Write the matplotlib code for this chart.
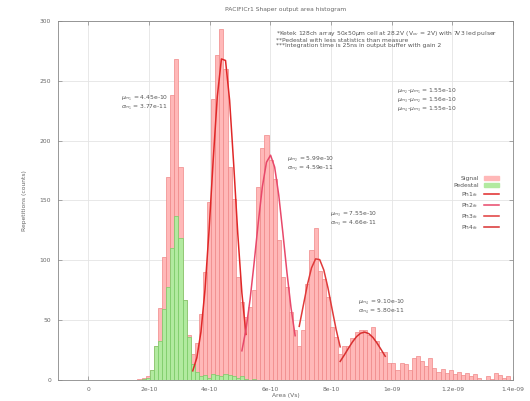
import numpy as np
import matplotlib
matplotlib.use('Agg')
import matplotlib.pyplot as plt
from matplotlib.patches import Patch
from matplotlib.lines import Line2D

# histogram, bin width 1.35e-11 starting at 1.62e-10
x0 = 1.62e-10
bw = 1.35e-11
signal = [1, 2, 3, 8, 28, 60, 103, 170, 238, 268,
          178, 67, 38, 22, 31, 55, 90, 149, 235, 272,
          293, 260, 178, 151, 86, 65, 53, 61, 75, 161,
          194, 205, 184, 168, 117, 86, 78, 57, 42, 28,
          42, 80, 109, 127, 91, 84, 69, 44, 36, 22,
          28, 28, 35, 40, 42, 42, 38, 44, 33, 23,
          23, 14, 14, 8, 14, 13, 8, 18, 20, 16,
          12, 18, 10, 7, 9, 6, 8, 5, 7, 4,
          6, 3, 5, 2, 0, 3, 1, 6, 4, 2,
          3, 0]
pedestal = [0, 1, 2, 8, 28, 33, 59, 78, 110, 137,
            119, 67, 36, 13, 7, 3, 4, 2, 5, 4,
            3, 5, 4, 3, 2, 3, 1, 0, 1]

# gaussian fits (mean, sigma, amplitude, range)
mu = [4.45e-10, 5.99e-10, 7.55e-10, 9.10e-10]
sig = [3.77e-11, 4.59e-11, 4.66e-11, 5.80e-11]
amp = [272, 188, 102, 40]
fit_lo = [3.35e-10, 5.05e-10, 6.85e-10, 8.2e-10]
fit_hi = [5.33e-10, 6.9e-10, 8.4e-10, 9.9e-10]
fit_names = ['Ph1$_{fit}$', 'Ph2$_{fit}$', 'Ph3$_{fit}$', 'Ph4$_{fit}$']
fit_cols = ['#e02828', '#e8486a', '#e03a3a', '#d83030']

xticks = [0, 2e-10, 4e-10, 6e-10, 8e-10, 1e-9, 1.2e-9, 1.4e-9]
xlabels = ['0', '2e-10', '4e-10', '6e-10', '8e-10', '1e-09', '1.2e-09', '1.4e-09']
yticks = [0, 50, 100, 150, 200, 250, 300]

fs = 4.3
tc = '#666666'

fig = plt.figure(figsize=(5.30, 4.01), dpi=100)
ax = fig.add_axes([58/530, 21/401, 455/530, 359/401])

left_s = x0 + bw*np.arange(len(signal))
left_p = x0 + bw*np.arange(len(pedestal))
ax.bar(left_s, signal, width=bw, align='edge', color='#ffb8b8',
       edgecolor='#f08888', linewidth=0.5, zorder=2)
ax.bar(left_p, pedestal, width=bw, align='edge', color='#b2eaa0',
       edgecolor='#78cc66', linewidth=0.5, zorder=3)

centers = left_s + bw/2
for m, s, a, lo, hi, c in zip(mu, sig, amp, fit_lo, fit_hi, fit_cols):
    xs = centers[(centers >= lo) & (centers <= hi)]
    ax.plot(xs, a*np.exp(-0.5*((xs - m)/s)**2), color=c, lw=1.1, zorder=4)

ax.set_xlim(-1e-10, 1.4e-9)
ax.set_ylim(0, 300)
ax.set_xticks(xticks)
ax.set_xticklabels(xlabels)
ax.set_yticks(yticks)
ax.grid(True, color='#e4e4e4', lw=0.6, zorder=0)
ax.set_axisbelow(True)
ax.tick_params(direction='in', length=3, width=0.5, colors='#888888',
               labelcolor=tc, labelsize=fs, top=True, right=True, pad=5)
for sp in ax.spines.values():
    sp.set_color('#888888')
    sp.set_linewidth(0.6)

ax.set_title('PACIFICr1 Shaper output area histogram', fontsize=fs, color=tc, pad=7)
ax.set_xlabel('Area (Vs)', fontsize=fs, color=tc, labelpad=1)
ax.set_ylabel('Repetitions (counts)', fontsize=fs, color=tc, labelpad=9)

ax.text(6.18e-10, 293,
        '*Ketek 128ch array 50x50$\\mu$m cell at 28.2V (V$_{ov}$ = 2V) with 7V3 led pulser\n'
        '**Pedestal with less statistics than measure\n'
        '***Integration time is 25ns in output buffer with gain 2',
        fontsize=fs, color='#555555', va='top', linespacing=0.95)

lab_x = [1.08e-10, 6.55e-10, 7.97e-10, 8.89e-10]
lab_y = [232, 181, 135, 61]
for i in range(4):
    ax.text(lab_x[i], lab_y[i],
            '$\\mu_{m_%d}$ = %.2e\n$\\sigma_{m_%d}$ = %.2e' % (i+1, mu[i], i+1, sig[i]),
            fontsize=fs, color='#555555', va='center', linespacing=0.9)

diffs = ['1.55e-10', '1.56e-10', '1.55e-10']
ax.text(10.18e-10, 234,
        '\n'.join('$\\mu_{m_%d}$-$\\mu_{m_%d}$ = %s' % (i+2, i+1, d) for i, d in enumerate(diffs)),
        fontsize=fs, color='#555555', va='center', linespacing=0.9)

handles = [Patch(facecolor='#ffb8b8', edgecolor='#ffb8b8'),
           Patch(facecolor='#b2eaa0', edgecolor='#b2eaa0')]
handles += [Line2D([], [], color=c, lw=1.1) for c in fit_cols]
ax.legend(handles, ['Signal', 'Pedestal'] + fit_names, loc='upper left',
          bbox_to_anchor=(0.86, 0.58), frameon=False, fontsize=fs,
          markerfirst=False, handlelength=2.6, handleheight=0.6,
          labelspacing=0.35, labelcolor='#555555', borderpad=0.2)

fig.savefig('out.png', dpi=100)
